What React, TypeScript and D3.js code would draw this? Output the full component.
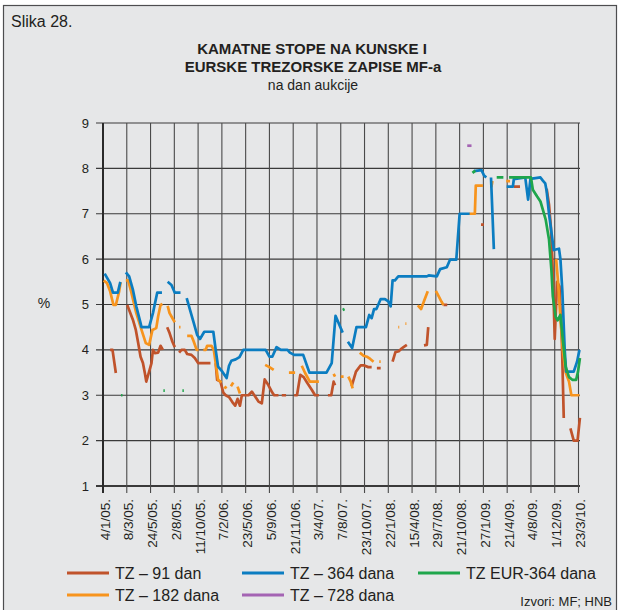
import React from "react";
import * as d3 from "d3";

type P = [number, number | null];

// x = auction index (ticks every 5 auctions), y = interest rate in %
const xTickLabels = [
  "4/1/05.", "8/3/05.", "24/5/05.", "2/8/05.", "11/10/05.", "7/2/06.", "23/5/06.",
  "5/9/06.", "21/11/06.", "3/4/07.", "7/8/07.", "23/10/07.", "22/1/08.", "15/4/08.",
  "29/7/08.", "21/10/08.", "27/1/09.", "21/4/09.", "4/8/09.", "1/12/09.", "23/3/10.",
];
const yTicks = [1, 2, 3, 4, 5, 6, 7, 8, 9];

const tz91: P[] = [
  [1.5, 4.0], [2.0, 4.0], [2.7, 3.49], [3.2, null],
  [5.1, 4.99], [5.6, 4.85], [6.3, 4.66], [6.9, 4.44], [7.4, 4.15], [7.9, 3.85], [8.4, 3.71], [8.8, 3.49], [9.1, 3.3],
  [9.7, 3.52], [10.2, 3.71], [10.5, 4.0], [10.9, 3.93], [11.6, 3.94], [12.1, 4.09], [12.6, 4.0], [13, null],
  [13.5, 4.5], [14.0, 4.37], [14.6, 4.18], [15.1, 4.06], [15.5, null],
  [16.0, 3.94], [16.5, 4.0], [17.2, 4.0], [17.7, 3.91], [18.6, 3.89], [19.3, 3.82], [20.0, 3.71], [22.6, 3.71], [23.1, null],
  [23.7, 3.71], [24.0, 3.34], [24.7, 3.3], [25.3, 3.06], [25.8, 3.0], [26.5, 2.96], [27.2, 2.85], [27.8, 2.77],
  [28.3, 2.92], [28.8, 2.77], [29.2, 3.0], [30.6, 3.0], [31.3, 3.08], [32.0, 2.97], [32.7, 2.86], [33.4, 2.82],
  [34.0, 3.35], [34.8, 3.22], [35.6, 3.06], [36.0, 3.0], [36.9, 3.0], [37.2, null],
  [37.6, 3.0], [38.5, 3.0], [38.8, null],
  [40.2, 3.0], [40.8, 3.0], [41.5, 3.45], [42.2, 3.4], [42.9, 3.28], [43.9, 3.12], [44.6, 3.0], [45.4, 3.0], [45.7, null],
  [47.3, 3.0], [48.0, 3.0], [48.5, 3.3], [48.8, 3.22], [49.1, null],
  [52.3, 3.2], [53.2, 3.52], [54.2, 3.66], [54.8, 3.66], [55.8, 3.62], [56.5, 3.62], [56.9, null],
  [57.6, 3.6], [58.4, 3.6], [58.7, null],
  [60.9, 3.74], [61.5, 3.95], [62.2, 3.97], [62.8, 4.03], [63.2, 4.06], [63.9, 4.11], [64.2, null],
  [67.5, 4.1], [68.1, 4.11], [68.4, 4.5], [68.6, null],
  [71.6, 4.99], [72.4, 4.99], [72.7, null],
  [79.5, 6.76], [80.1, 6.76], [80.4, null],
  [86.4, 7.6], [87.7, 7.6], [88, null],
  [93.3, 7.55], [93.8, 7.2], [94.2, 6.7], [94.5, 6.0], [94.8, 5.0], [95.0, 4.24], [95.3, 5.0], [95.5, 5.5],
  [96.0, 5.4], [96.5, 4.2], [96.9, 2.5], [97.2, null],
  [98.3, 2.27], [99.0, 2.0], [99.8, 2.0], [100.3, 2.5],
];

const tz182: P[] = [
  [0.14, 5.53], [0.85, 5.47], [1.5, 5.29], [2.2, 4.99], [2.7, 4.99], [3.4, 5.29], [3.7, 5.49], [4.2, null],
  [4.8, 5.53], [5.3, 5.53], [6.0, 5.25], [7.0, 4.81], [8.1, 4.44], [9.0, 4.15], [9.7, 4.11], [10.4, 4.44],
  [11.2, 4.48], [11.6, 4.74], [12.1, 4.99], [12.5, 5.01], [13, null],
  [13.6, 4.97], [14.0, 4.81], [14.7, 4.68], [15.1, 4.61], [15.5, null],
  [16.0, 4.5], [16.3, 4.5], [16.8, null],
  [17.7, 4.31], [18.6, 4.31], [19.1, 4.18], [19.7, 4.0], [20.1, 4.0], [20.5, null],
  [21.1, 4.0], [21.6, 4.0], [21.9, 4.09], [22.8, 4.09], [23.3, 4.0], [23.9, 3.56], [24.2, 3.34], [24.9, 3.28], [25.2, null],
  [25.5, 3.15], [26.0, 3.19], [26.4, null],
  [26.9, 3.2], [27.4, 3.28], [27.7, null],
  [28.3, 3.19], [28.8, 3.04], [29.1, null],
  [34.1, 3.67], [35.0, 3.62], [35.9, 3.56], [36.2, null],
  [39.1, 3.5], [40.4, 3.5], [40.8, null],
  [41.8, 3.65], [42.5, 3.49], [43.5, 3.3], [44.1, 3.3], [45.4, 3.3], [45.8, null],
  [48.5, 3.47], [48.8, 3.41], [49.1, null],
  [50.0, 3.41], [50.6, 3.41], [51, null],
  [51.6, 3.41], [52.1, 3.3], [52.5, 3.15], [52.8, null],
  [54.0, 3.94], [54.8, 3.87], [55.5, 3.85], [56.2, 3.8], [56.9, 3.74], [57.2, null],
  [58.1, 3.74], [58.4, 3.74], [58.6, null],
  [62.1, 4.5], [62.3, 4.5], [62.5, null],
  [63.6, 4.58], [63.8, 4.58], [64, null],
  [66.2, 4.98], [66.9, 4.9], [67.6, 5.1], [68.3, 5.29], [68.6, null],
  [70.0, 5.3], [70.5, 5.2], [71.2, 5.06], [71.6, 4.99], [71.8, null],
  [77.0, 7.0], [78.2, 7.0], [78.4, 7.62], [79.9, 7.62], [80.2, null],
  [81.4, 7.6], [81.7, 7.6], [81.9, 7.72], [82.1, null],
  [84.8, 7.72], [85.6, 7.72], [86, null],
  [95.3, 6.0], [95.7, 5.5], [96.2, 4.7], [96.7, 4.0], [97.3, 3.5], [98.0, 3.3], [98.5, 3.0], [100.2, 3.0],
];

const tz364: P[] = [
  [0.35, 5.68], [1.5, 5.47], [2.1, 5.26], [3.1, 5.26], [3.65, 5.5], [4.2, null],
  [4.8, 5.71], [5.5, 5.62], [6.3, 5.32], [7.0, 4.96], [7.9, 4.59], [8.1, 4.5], [9.7, 4.5], [10.5, 4.81],
  [11.4, 5.26], [12.4, 5.26], [13, null],
  [13.6, 5.5], [14.4, 5.43], [15.1, 5.26], [16.3, 5.26], [17, null],
  [17.6, 5.14], [18.3, 4.88], [19.1, 4.59], [19.8, 4.33], [20.4, 4.24], [21.3, 4.4], [23.2, 4.4], [23.7, 4.0],
  [24.2, 3.63], [25.1, 3.52], [26.0, 3.38], [26.5, 3.65], [27.0, 3.76], [27.9, 3.79], [28.7, 3.84], [29.5, 4.0],
  [34.2, 4.0], [35.0, 3.85], [35.6, 3.85], [36.5, 4.06], [37.4, 4.0], [38.8, 4.0], [39.3, 3.94], [40.2, 3.89],
  [42.1, 3.89], [43.4, 3.5], [47.0, 3.5], [48.1, 3.71], [48.9, 4.75], [50.4, 4.38], [51, null],
  [51.5, 4.18], [52.4, 4.04], [53.3, 4.5], [55.3, 4.5], [56.0, 4.77], [56.5, 4.7], [57.0, 4.9], [57.5, 4.9],
  [58.4, 5.12], [59.3, 5.12], [60.0, 5.07], [60.5, 4.96], [60.9, 5.53], [61.4, 5.53], [62.1, 5.62], [68.1, 5.62],
  [68.5, 5.64], [70.2, 5.62], [70.9, 5.78], [72.3, 5.82], [73.0, 5.99], [74.3, 5.99], [75.0, 7.0], [77.1, 7.0], [77.5, null],
  [78.0, 7.94], [79.6, 7.96], [80.1, 7.85], [80.6, 7.8], [81, null],
  [81.6, 7.8], [82.2, 6.22], [82.5, null],
  [84.9, 7.6], [86.2, 7.6], [86.4, 7.76], [88.8, 7.8], [89.4, 7.31], [89.9, 7.77], [92.0, 7.8], [92.5, 7.73],
  [93.0, 7.67], [93.3, 7.5], [93.8, 7.0], [94.3, 6.6], [94.8, 6.2], [95.9, 6.23], [96.2, 6.0], [96.6, 5.3],
  [97.1, 4.0], [97.4, 3.52], [99.0, 3.52], [99.7, 3.74], [100.2, 4.0],
];

const tz728: P[] = [[76.6, 8.5], [77.5, 8.5]];

const tzEur364: P[] = [
  [3.8, 3.0], [4.1, 3.0], [4.3, null],
  [12.7, 3.1], [13.0, 3.1], [13.2, null],
  [16.7, 3.1], [17.0, 3.1], [17.2, null],
  [50.4, 4.88], [50.8, 4.9], [51.0, null],
  [77.7, 7.9], [78.3, 7.95], [78.6, null],
  [82.8, 7.8], [84.2, 7.8], [84.6, null],
  [85.4, 7.8], [90.0, 7.8], [90.4, 7.53], [91.3, 7.38], [92.0, 7.27], [92.5, 7.09], [93.1, 6.87], [93.8, 6.43],
  [94.3, 5.76], [94.6, 5.18], [95.2, 4.73], [95.6, 4.65], [96.2, 4.77], [96.7, 4.22], [97.3, 3.63], [98.0, 3.4],
  [98.7, 3.34], [99.5, 3.34], [99.9, 3.52], [100.3, 3.82],
];

const C_RED = "#c0532b";
const C_ORANGE = "#f7941d";
const C_BLUE = "#0b7dc1";
const C_GREEN = "#1fa64b";
const C_PURPLE = "#a464b3";

const series = [
  { name: "TZ – 91 dan", data: tz91, color: C_RED },
  { name: "TZ – 182 dana", data: tz182, color: C_ORANGE },
  { name: "TZ – 364 dana", data: tz364, color: C_BLUE },
  { name: "TZ – 728 dana", data: tz728, color: C_PURPLE },
  { name: "TZ EUR-364 dana", data: tzEur364, color: C_GREEN },
];

const legendItems = [
  { name: "TZ – 91 dan", color: C_RED, x: 67, y: 573 },
  { name: "TZ – 364 dana", color: C_BLUE, x: 242, y: 573 },
  { name: "TZ EUR-364 dana", color: C_GREEN, x: 418, y: 573 },
  { name: "TZ – 182 dana", color: C_ORANGE, x: 67, y: 595 },
  { name: "TZ – 728 dana", color: C_PURPLE, x: 242, y: 595 },
];

const FONT = "'Liberation Sans', Arial, Helvetica, sans-serif";

export default function App() {
  const x = d3.scaleLinear().domain([0, 100]).range([103, 578.5]);
  const y = d3.scaleLinear().domain([1, 9]).range([486, 123]);
  const line = d3
    .line<P>()
    .defined((d) => d[1] != null)
    .x((d) => x(d[0]))
    .y((d) => y(d[1] as number));
  const tickIdx = xTickLabels.map((_, i) => i * 5);

  return (
    <svg
      width={620}
      height={610}
      style={{ position: "absolute", left: 0, top: 0, fontFamily: FONT }}
    >
      <rect x={0} y={0} width={620} height={610} fill="#ffffff" />
      <rect x={3.5} y={5.5} width={613} height={610} fill="#e6e7e8" stroke="#4d4d4f" strokeWidth={1.2} />
      <text x={11} y={27} fontSize={16} fill="#231f20">Slika 28.</text>
      <text x={312} y={54} fontSize={15} fontWeight="bold" textAnchor="middle" fill="#231f20">
        KAMATNE STOPE NA KUNSKE I
      </text>
      <text x={313} y={72} fontSize={15} fontWeight="bold" textAnchor="middle" fill="#231f20">
        EURSKE TREZORSKE ZAPISE MF-a
      </text>
      <text x={313} y={90} fontSize={14} textAnchor="middle" fill="#231f20">
        na dan aukcije
      </text>

      {/* horizontal grid */}
      {yTicks.map((t) => (
        <line
          key={"h" + t}
          x1={96}
          x2={580}
          y1={y(t)}
          y2={y(t)}
          stroke="#3a3a3a"
          strokeWidth={t === 1 ? 2 : 1.1}
        />
      ))}
      {/* vertical grid */}
      {tickIdx.map((t, i) => (
        <line
          key={"v" + t}
          x1={x(t)}
          x2={x(t)}
          y1={y(9)}
          y2={493}
          stroke={i === 0 ? "#2a2a2a" : "#4a4a4a"}
          strokeWidth={i === 0 ? 2 : 1.1}
        />
      ))}

      {yTicks.map((t) => (
        <text key={"yl" + t} x={89} y={y(t) + 4.5} fontSize={13} textAnchor="end" fill="#231f20">
          {t}
        </text>
      ))}
      <text x={44} y={308} fontSize={14} textAnchor="middle" fill="#231f20">%</text>

      {tickIdx.map((t, i) => (
        <text
          key={"xl" + t}
          transform={`translate(${x(t) + 6.5},${499}) rotate(-90)`}
          fontSize={13.5}
          textAnchor="end"
          fill="#231f20"
        >
          {xTickLabels[i]}
        </text>
      ))}

      {series.map((s) => (
        <path
          key={s.name}
          d={line(s.data) || ""}
          fill="none"
          stroke={s.color}
          strokeWidth={2.7}
          strokeLinejoin="round"
        />
      ))}

      {legendItems.map((it) => (
        <g key={"lg" + it.name}>
          <line x1={it.x} x2={it.x + 42} y1={it.y} y2={it.y} stroke={it.color} strokeWidth={3} />
          <text x={it.x + 48} y={it.y + 5.5} fontSize={16} fill="#231f20">
            {it.name}
          </text>
        </g>
      ))}
      <text x={612} y={606} fontSize={13} textAnchor="end" fill="#231f20">
        Izvori: MF; HNB
      </text>
    </svg>
  );
}
